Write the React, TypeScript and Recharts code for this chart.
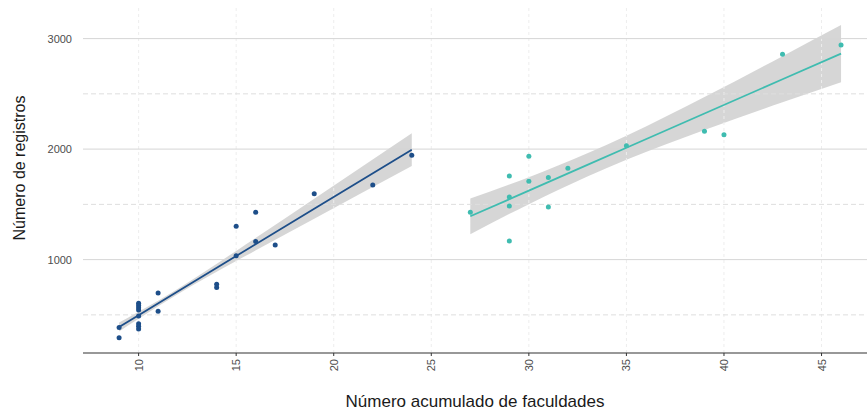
import React from "react";
import {
  ComposedChart,
  Scatter,
  Line,
  Area,
  XAxis,
  YAxis,
  ReferenceLine,
  Label,
} from "recharts";

// ---------------------------------------------------------------------------
// Data
// ---------------------------------------------------------------------------

// first group: faculdades (x) vs registros (y)
const groupAX = [9, 9, 10, 10, 10, 10, 10, 10, 10, 10, 11, 11, 14, 14, 15, 15, 16, 16, 17, 19, 22, 24];
const groupAY = [385, 294, 605, 585, 565, 545, 490, 420, 398, 372, 698, 532, 776, 747, 1301, 1035, 1428, 1165, 1132, 1597, 1675, 1944];

// second group
const groupBX = [27, 29, 29, 29, 29, 30, 30, 31, 31, 32, 35, 39, 40, 43, 46];
const groupBY = [1428, 1757, 1567, 1485, 1168, 1935, 1709, 1742, 1476, 1826, 2031, 2161, 2131, 2858, 2942];

// fitted lines + confidence band, read at a few x positions
const fitAX = [9, 10, 12, 15, 19, 24];
const fitAY = [390, 497, 711, 1033, 1460, 1995];
const fitALow = [350, 466, 687, 987, 1370, 1847];
const fitAHigh = [430, 528, 735, 1079, 1550, 2143];

const fitBX = [27, 30, 33, 35, 39, 43, 46];
const fitBY = [1392, 1624, 1857, 2012, 2322, 2632, 2864];
const fitBLow = [1230, 1502, 1752, 1903, 2173, 2423, 2605];
const fitBHigh = [1552, 1746, 1962, 2121, 2471, 2841, 3123];

const xTicks = [10, 15, 20, 25, 30, 35, 40, 45];
const yTicks = [1000, 2000, 3000];
const yMinorTicks = [500, 1500, 2500];

const COLOR_A = "#1d4e89";
const COLOR_B = "#3fbcb0";
const FONT = "'Liberation Sans', Arial, sans-serif";

const toPoints = (xs: number[], ys: number[]) => xs.map((x, i) => ({ x, y: ys[i] }));
const toBand = (xs: number[], lo: number[], hi: number[]) =>
  xs.map((x, i) => ({ x, band: [lo[i], hi[i]] }));

const pointsA = toPoints(groupAX, groupAY);
const pointsB = toPoints(groupBX, groupBY);
const lineA = toPoints(fitAX, fitAY);
const lineB = toPoints(fitBX, fitBY);
const bandA = toBand(fitAX, fitALow, fitAHigh);
const bandB = toBand(fitBX, fitBLow, fitBHigh);

// ---------------------------------------------------------------------------
// Custom bits
// ---------------------------------------------------------------------------

function dot(color: string) {
  return (p: any) => <circle cx={p.cx} cy={p.cy} r={2.5} fill={color} />;
}

function XTick({ x, y, payload }: any) {
  return (
    <text
      x={x}
      y={y + 1}
      transform={`rotate(-90 ${x} ${y + 1})`}
      textAnchor="end"
      dominantBaseline="central"
      fontSize={11}
      fill="#4d4d4d"
      fontFamily={FONT}
    >
      {payload.value}
    </text>
  );
}

function YTitle({ viewBox }: any) {
  const cy = viewBox.y + viewBox.height / 2 - 11;
  return (
    <text
      x={19}
      y={cy}
      transform={`rotate(-90 19 ${cy})`}
      textAnchor="middle"
      dominantBaseline="central"
      fontSize={16}
      fill="#1a1a1a"
      fontFamily={FONT}
    >
      Número de registros
    </text>
  );
}

// ---------------------------------------------------------------------------
// App
// ---------------------------------------------------------------------------

export default function App() {
  return (
    <div style={{ position: "absolute", left: 0, top: 0, width: 867, height: 413, background: "#fff" }}>
      <ComposedChart width={867} height={413} margin={{ top: 5, right: 0, bottom: 0, left: 0 }}>
        <XAxis
          type="number"
          dataKey="x"
          domain={[7.15, 47.33]}
          ticks={xTicks}
          allowDataOverflow
          height={60}
          tick={<XTick />}
          tickSize={3}
          tickLine={{ stroke: "#333" }}
          axisLine={{ stroke: "#333", strokeWidth: 1.2 }}
        >
          <Label
            value="Número acumulado de faculdades"
            position="insideBottom"
            offset={6}
            fontSize={17}
            fill="#1a1a1a"
            fontFamily={FONT}
          />
        </XAxis>
        <YAxis
          type="number"
          domain={[155, 3304]}
          ticks={yTicks}
          allowDataOverflow
          width={83}
          axisLine={false}
          tickLine={false}
          tickMargin={5}
          tick={{ fontSize: 11, fill: "#4d4d4d", fontFamily: FONT }}
        >
          <Label content={<YTitle />} />
        </YAxis>

        {xTicks.map((t) => (
          <ReferenceLine key={`vx-${t}`} x={t} stroke="#ededed" strokeDasharray="3 3" />
        ))}
        {yMinorTicks.map((t) => (
          <ReferenceLine key={`hm-${t}`} y={t} stroke="#dedede" strokeDasharray="5 3" />
        ))}
        {yTicks.map((t) => (
          <ReferenceLine key={`hy-${t}`} y={t} stroke="#d6d6d6" />
        ))}

        <Scatter data={pointsA} dataKey="y" fill={COLOR_A} shape={dot(COLOR_A)} isAnimationActive={false} />
        <Scatter data={pointsB} dataKey="y" fill={COLOR_B} shape={dot(COLOR_B)} isAnimationActive={false} />

        <Area
          data={bandA}
          dataKey="band"
          type="monotone"
          stroke="none"
          fill="#999999"
          fillOpacity={0.4}
          isAnimationActive={false}
        />
        <Area
          data={bandB}
          dataKey="band"
          type="monotone"
          stroke="none"
          fill="#999999"
          fillOpacity={0.4}
          isAnimationActive={false}
        />

        <Line data={lineA} dataKey="y" stroke={COLOR_A} strokeWidth={1.8} dot={false} isAnimationActive={false} />
        <Line data={lineB} dataKey="y" stroke={COLOR_B} strokeWidth={1.8} dot={false} isAnimationActive={false} />
      </ComposedChart>
    </div>
  );
}
